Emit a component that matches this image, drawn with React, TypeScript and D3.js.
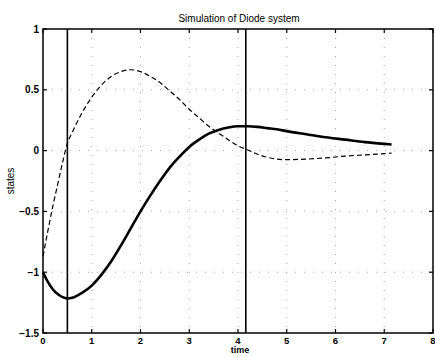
import React from "react";
import * as d3 from "d3";

const timeValues = [0, 0.1, 0.2, 0.3, 0.4, 0.5, 0.6, 0.8, 1.0, 1.2, 1.4, 1.6, 1.8, 2.0, 2.2, 2.4, 2.6, 2.8, 3.0, 3.2, 3.4, 3.6, 3.8, 4.0, 4.2, 4.4, 4.6, 4.8, 5.0, 5.4, 5.8, 6.2, 6.6, 7.0, 7.15];
const state1 = [-1.0, -1.08, -1.14, -1.18, -1.205, -1.215, -1.21, -1.17, -1.11, -1.02, -0.91, -0.78, -0.64, -0.5, -0.37, -0.25, -0.14, -0.05, 0.03, 0.09, 0.14, 0.17, 0.19, 0.2, 0.2, 0.195, 0.185, 0.175, 0.16, 0.135, 0.11, 0.09, 0.07, 0.055, 0.05];
const state2 = [-0.87, -0.66, -0.46, -0.28, -0.1, 0.06, 0.15, 0.31, 0.44, 0.54, 0.61, 0.65, 0.665, 0.65, 0.61, 0.56, 0.49, 0.42, 0.34, 0.27, 0.2, 0.145, 0.09, 0.04, 0.005, -0.03, -0.055, -0.07, -0.075, -0.07, -0.06, -0.045, -0.035, -0.025, -0.02];
const switchTimes = [0.5, 4.16];
const xTicks = [0, 1, 2, 3, 4, 5, 6, 7, 8];
const yTicks = [1, 0.5, 0, -0.5, -1, -1.5];
const titleText = "Simulation of Diode system";
const xLabel = "time";
const yLabel = "states";

const W = 435;
const H = 356;
const left = 43;
const right = 433;
const top = 29;
const bottom = 333;

export default function App() {
  const x = d3.scaleLinear().domain([0, 8]).range([left, right]);
  const y = d3.scaleLinear().domain([-1.5, 1]).range([bottom, top]);
  const line = d3
    .line<number>()
    .x((_, i) => x(timeValues[i]))
    .y((d) => y(d))
    .curve(d3.curveMonotoneX);
  const fmt = (v: number) => (v < 0 ? "\u2212" + String(-v) : String(v));
  const font = "Liberation Sans, Arial, sans-serif";
  return (
    <svg
      width={W}
      height={H}
      style={{ position: "fixed", left: 0, top: 0, background: "#fff" }}
      fontFamily={font}
    >
      <rect x={0} y={0} width={W} height={H} fill="#fff" />
      {/* grid */}
      {xTicks.slice(1, -1).map((t) => (
        <line key={"gx" + t} x1={x(t)} x2={x(t)} y1={top} y2={bottom} stroke="#aaa" strokeWidth={1} strokeDasharray="1,8" />
      ))}
      {yTicks.slice(1, -1).map((t) => (
        <line key={"gy" + t} x1={left} x2={right} y1={y(t)} y2={y(t)} stroke="#aaa" strokeWidth={1} strokeDasharray="1,8" />
      ))}
      {/* ticks */}
      {xTicks.map((t) => (
        <g key={"tx" + t}>
          <line x1={x(t)} x2={x(t)} y1={bottom} y2={bottom - 4} stroke="#000" strokeWidth={1.2} />
          <line x1={x(t)} x2={x(t)} y1={top} y2={top + 4} stroke="#000" strokeWidth={1.2} />
          <text x={x(t)} y={bottom + 10.5} fontSize={9.5} fontWeight="bold" textAnchor="middle">
            {fmt(t)}
          </text>
        </g>
      ))}
      {yTicks.map((t) => (
        <g key={"ty" + t}>
          <line x1={left} x2={left + 4} y1={y(t)} y2={y(t)} stroke="#000" strokeWidth={1.2} />
          <line x1={right} x2={right - 4} y1={y(t)} y2={y(t)} stroke="#000" strokeWidth={1.2} />
          <text x={left - 4} y={y(t) + 3.5} fontSize={10} fontWeight="bold" textAnchor="end">
            {fmt(t)}
          </text>
        </g>
      ))}
      {/* switching lines */}
      {switchTimes.map((t) => (
        <line key={"s" + t} x1={x(t)} x2={x(t)} y1={top} y2={bottom} stroke="#000" strokeWidth={1.6} />
      ))}
      {/* curves */}
      <path d={line(state2) || ""} fill="none" stroke="#000" strokeWidth={1.2} strokeDasharray="5,3" />
      <path d={line(state1) || ""} fill="none" stroke="#000" strokeWidth={2.6} />
      {/* frame */}
      <rect x={left} y={top} width={right - left} height={bottom - top} fill="none" stroke="#000" strokeWidth={1.5} />
      <text x={(left + right) / 2 + 1} y={22} fontSize={10} textAnchor="middle">
        {titleText}
      </text>
      <text x={(left + right) / 2 + 2} y={353} fontSize={9} fontWeight="bold" textAnchor="middle">
        {xLabel}
      </text>
      <text transform={`translate(14, 181) rotate(-90)`} fontSize={10} textAnchor="middle">
        {yLabel}
      </text>
    </svg>
  );
}
